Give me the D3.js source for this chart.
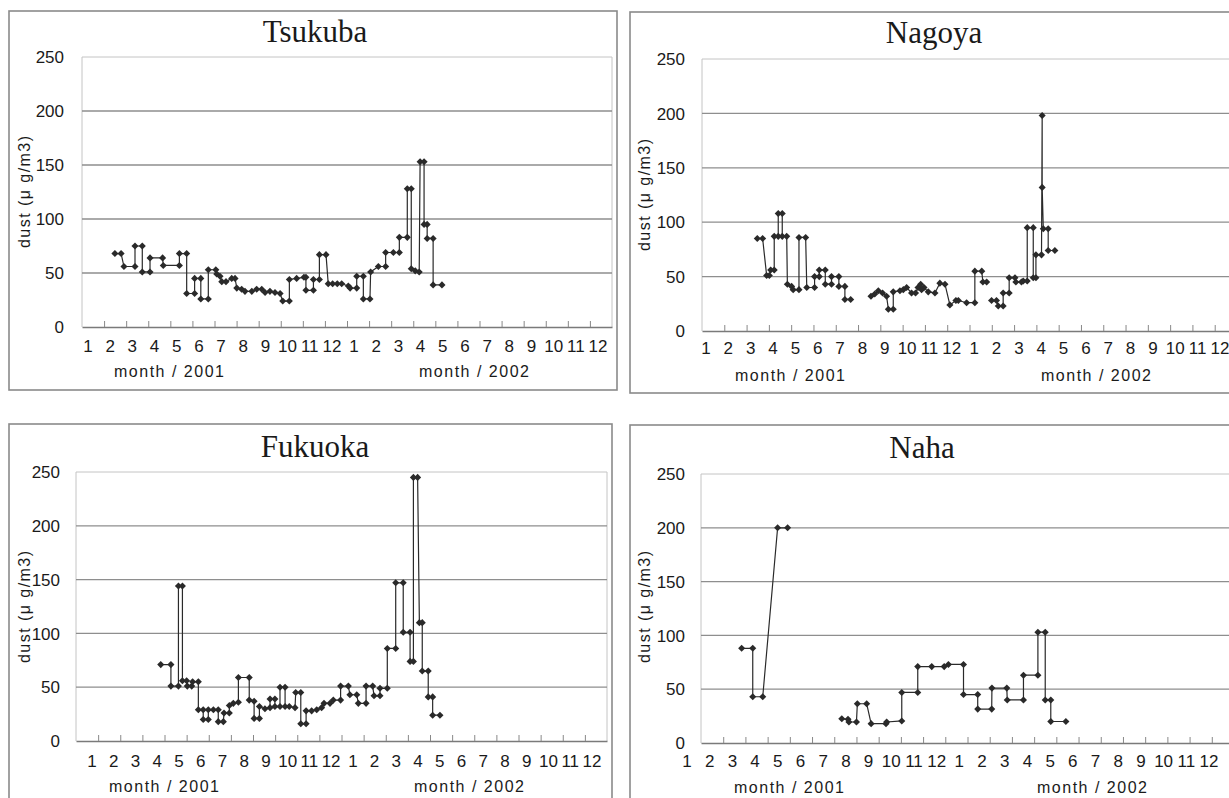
<!DOCTYPE html>
<html><head><meta charset="utf-8">
<script src="https://cdn.jsdelivr.net/npm/d3@7"></script>
<style>body{margin:0;background:#fff}svg{display:block}</style>
</head><body>
<svg id="c" width="1229" height="798"></svg>
<script>
// ---- data (month position: 0 = start of Jan 2001, 12 = start of Jan 2002) ----
const stations = ["Tsukuba", "Nagoya", "Fukuoka", "Naha"];
const monthLabels = ["1","2","3","4","5","6","7","8","9","10","11","12","1","2","3","4","5","6","7","8","9","10","11","12"];
const yTicks = [0, 50, 100, 150, 200, 250];
const yTitle = "dust (μ g/m3)";
const yearLabels = ["month / 2001", "month / 2002"];

const tsukubaMonth = [1.49,1.77,1.90,2.40,2.40,2.73,2.73,3.08,3.08,3.65,3.68,4.41,4.41,4.74,4.74,5.10,5.10,5.38,5.38,5.72,5.72,6.06,6.10,6.25,6.33,6.52,6.78,6.93,7.01,7.23,7.38,7.69,7.91,8.14,8.29,8.51,8.74,8.97,9.09,9.39,9.39,9.72,10.05,10.14,10.14,10.48,10.48,10.75,10.75,11.05,11.15,11.35,11.56,11.76,12.06,12.14,12.44,12.44,12.74,12.74,13.04,13.07,13.42,13.75,13.75,14.10,14.37,14.37,14.73,14.73,14.91,14.91,15.09,15.27,15.31,15.49,15.49,15.63,15.63,15.90,15.90,16.30];
const tsukubaDust  = [68,68,56,56,75,75,51,51,64,64,57,57,68,68,31,31,45,45,26,26,53,53,49,47,42,42,45,45,36,35,33,33,35,35,32,33,32,31,24,24,44,45,46,46,34,34,44,44,67,67,40,40,40,40,38,36,36,47,47,26,26,51,56,56,69,69,69,83,83,128,128,54,52,51,153,153,95,95,82,82,39,39];

const nagoyaMonth = [2.48,2.72,2.90,3.02,3.08,3.24,3.24,3.42,3.42,3.60,3.60,3.80,3.83,4.02,4.09,4.35,4.35,4.65,4.70,5.05,5.05,5.26,5.26,5.53,5.53,5.81,5.81,6.14,6.14,6.41,6.41,6.67,null,
  7.58,7.75,7.91,8.10,8.28,8.36,8.58,8.58,8.88,9.03,9.18,9.40,9.58,9.69,9.81,9.85,9.96,10.15,10.45,10.67,10.90,11.12,11.39,11.50,11.87,12.24,12.24,12.55,12.60,12.77,null,
  12.99,13.21,13.29,13.51,13.51,13.78,13.78,14.04,14.08,14.33,14.41,14.59,14.59,14.86,14.86,14.98,14.98,15.23,15.26,15.26,15.31,15.53,15.53,15.83];
const nagoyaDust = [85,85,51,51,56,56,87,87,108,108,87,87,43,41,38,38,86,86,40,40,50,50,56,56,43,43,50,50,41,41,29,29,null,
  32,34,37,35,32,20,20,36,37,38,40,35,35,40,43,38,40,36,35,44,43,24,28,28,26,26,55,55,45,45,null,
  28,28,23,23,35,35,49,49,45,45,46,46,95,95,49,49,70,70,198,132,94,94,74,74];

const fukuokaMonth = [3.83,4.29,4.29,4.63,4.63,4.81,4.81,5.00,5.03,5.23,5.27,5.53,5.53,5.75,5.75,5.98,5.98,6.21,6.43,6.43,6.66,6.69,6.93,6.93,7.11,7.34,7.34,7.83,7.83,8.05,8.05,8.29,8.29,8.54,8.77,8.77,8.99,8.99,9.22,9.22,9.45,9.45,9.64,9.90,9.93,10.16,10.16,10.40,10.40,10.65,10.88,11.10,11.21,11.48,11.63,11.96,11.96,12.31,12.38,12.69,12.76,13.11,13.11,13.41,13.47,13.74,13.74,14.07,14.07,14.45,14.45,14.79,14.79,15.10,15.10,15.25,15.25,15.44,15.52,15.65,15.65,15.92,15.92,16.12,16.12,16.45];
const fukuokaDust  = [71,71,51,51,144,144,56,56,51,51,55,55,29,29,20,20,29,29,29,18,18,26,26,33,35,36,59,59,38,37,21,21,32,30,31,39,39,32,32,50,50,32,32,31,45,45,16,16,28,28,29,31,35,35,38,38,51,51,43,43,35,35,51,51,42,42,49,49,86,86,147,147,101,101,74,74,245,245,110,110,65,65,41,41,24,24];

const nahaMonth = [1.83,2.33,2.33,2.78,3.45,3.90,null,
  6.34,6.62,6.66,7.00,7.04,7.46,7.66,8.33,8.36,9.04,9.04,9.76,9.76,10.39,10.95,11.14,11.82,11.82,12.46,12.46,13.09,13.10,13.77,13.79,14.52,14.52,15.17,15.17,15.50,15.50,15.75,15.75,16.43];
const nahaDust = [88,88,43,43,200,200,null,
  22.5,22,19.5,19.5,36.5,36.5,18,18,19.5,20.5,47,47,71,71,71,73,73,45,45,31.5,31.5,51,51,40,40,63,63,103,103,40,40,20,20];

// ---- layout ----
const SANS = "'Liberation Sans', Arial, sans-serif";
const SERIF = "'Liberation Serif', 'Times New Roman', serif";
const panels = [
  {name: stations[0], m: tsukubaMonth, v: tsukubaDust, frame: [9,11,608,379], plot: [82,612,327,57], lab: [88,598,352], yLabX: 64, yT: [24,192], title: [315,42], mt: [169,474,377]},
  {name: stations[1], m: nagoyaMonth, v: nagoyaDust, frame: [630,12,640,381], plot: [702,1237,331,59], lab: [706,1220,354], yLabX: 685, yT: [644,195], title: [934,43], mt: [790,1096,381]},
  {name: stations[2], m: fukuokaMonth, v: fukuokaDust, frame: [9,424,603,400], plot: [76,607,741,472], lab: [92,592,767], yLabX: 60, yT: [24,607], title: [315,457], mt: [164,469,792]},
  {name: stations[3], m: nahaMonth, v: nahaDust, frame: [630,425,640,400], plot: [701,1234,743,474], lab: [687,1209,767], yLabX: 685, yT: [644,607], title: [922,458], mt: [789,1092,793]}
];

const svg = d3.select('#c');
const markerType = d3.symbolDiamond2 || d3.symbolCircle;

panels.forEach(p => {
  const g = svg.append('g');
  g.append('rect').attr('x', p.frame[0]).attr('y', p.frame[1]).attr('width', p.frame[2]).attr('height', p.frame[3])
    .attr('fill', 'none').attr('stroke', '#8a8a8a').attr('stroke-width', 1.6);

  const x = d3.scaleLinear().domain([0, 24]).range([p.plot[0], p.plot[1]]);
  const y = d3.scaleLinear().domain([0, 250]).range([p.plot[2], p.plot[3]]);

  [0, 24].forEach(d => g.append('line').attr('x1', x(d)).attr('x2', x(d)).attr('y1', y(0)).attr('y2', y(250))
    .attr('stroke', '#c4c4c4').attr('stroke-width', 1));

  g.selectAll('line.grid').data(yTicks.slice(1)).join('line').attr('class', 'grid')
    .attr('x1', x(0)).attr('x2', x(24)).attr('y1', d => y(d)).attr('y2', d => y(d))
    .attr('stroke', d => d === 250 ? '#c4c4c4' : '#8e8e8e').attr('stroke-width', d => d === 250 ? 1 : 1.3);

  const ax = g.append('g').attr('transform', `translate(0,${y(0)})`)
    .call(d3.axisBottom(x).tickValues(d3.range(1, 24)).tickSize(-6).tickSizeOuter(0).tickFormat(''));
  ax.select('.domain').attr('stroke', '#7a7a7a').attr('stroke-width', 1.6);
  ax.selectAll('.tick line').attr('stroke', '#888').attr('stroke-width', 1);

  g.selectAll('text.yl').data(yTicks).join('text').attr('class', 'yl')
    .attr('x', p.yLabX).attr('y', d => y(d)).attr('dy', '0.36em').attr('text-anchor', 'end')
    .attr('font-family', SANS).attr('font-size', 17).attr('fill', '#1a1a1a').text(d => d);

  const lx = d3.scaleLinear().domain([0, monthLabels.length - 1]).range([p.lab[0], p.lab[1]]);
  g.selectAll('text.xl').data(monthLabels).join('text').attr('class', 'xl')
    .attr('x', (d, i) => lx(i)).attr('y', p.lab[2]).attr('text-anchor', 'middle')
    .attr('font-family', SANS).attr('font-size', 17).attr('fill', '#1a1a1a').text(d => d);

  g.selectAll('text.yr').data(yearLabels).join('text').attr('class', 'yr')
    .attr('x', (d, i) => p.mt[i]).attr('y', p.mt[2]).attr('text-anchor', 'middle')
    .attr('font-family', SANS).attr('font-size', 16).attr('fill', '#1a1a1a')
    .attr('textLength', 110).attr('lengthAdjust', 'spacing').text(d => d);

  g.append('text').attr('transform', `translate(${p.yT[0]},${p.yT[1]}) rotate(-90)`)
    .attr('text-anchor', 'middle').attr('dy', '0.35em')
    .attr('font-family', SANS).attr('font-size', 16).attr('fill', '#1a1a1a')
    .attr('textLength', 112).attr('lengthAdjust', 'spacing').text(yTitle);

  g.append('text').attr('x', p.title[0]).attr('y', p.title[1]).attr('text-anchor', 'middle')
    .attr('font-family', SERIF).attr('font-size', 31).attr('fill', '#1a1a1a').text(p.name);

  const pts = p.m.map((m, i) => ({m: m, v: p.v[i]}));
  const line = d3.line().defined(d => d.m != null && d.v != null).x(d => x(d.m)).y(d => y(d.v));
  g.append('path').attr('d', line(pts)).attr('fill', 'none').attr('stroke', '#2a2a2a').attr('stroke-width', 1.2);

  g.selectAll('path.mk').data(pts.filter(d => d.m != null && d.v != null)).join('path').attr('class', 'mk')
    .attr('transform', d => `translate(${x(d.m)},${y(d.v)})`)
    .attr('d', d3.symbol(markerType, 32)).attr('fill', '#2a2a2a');
});
</script>
</body></html>
